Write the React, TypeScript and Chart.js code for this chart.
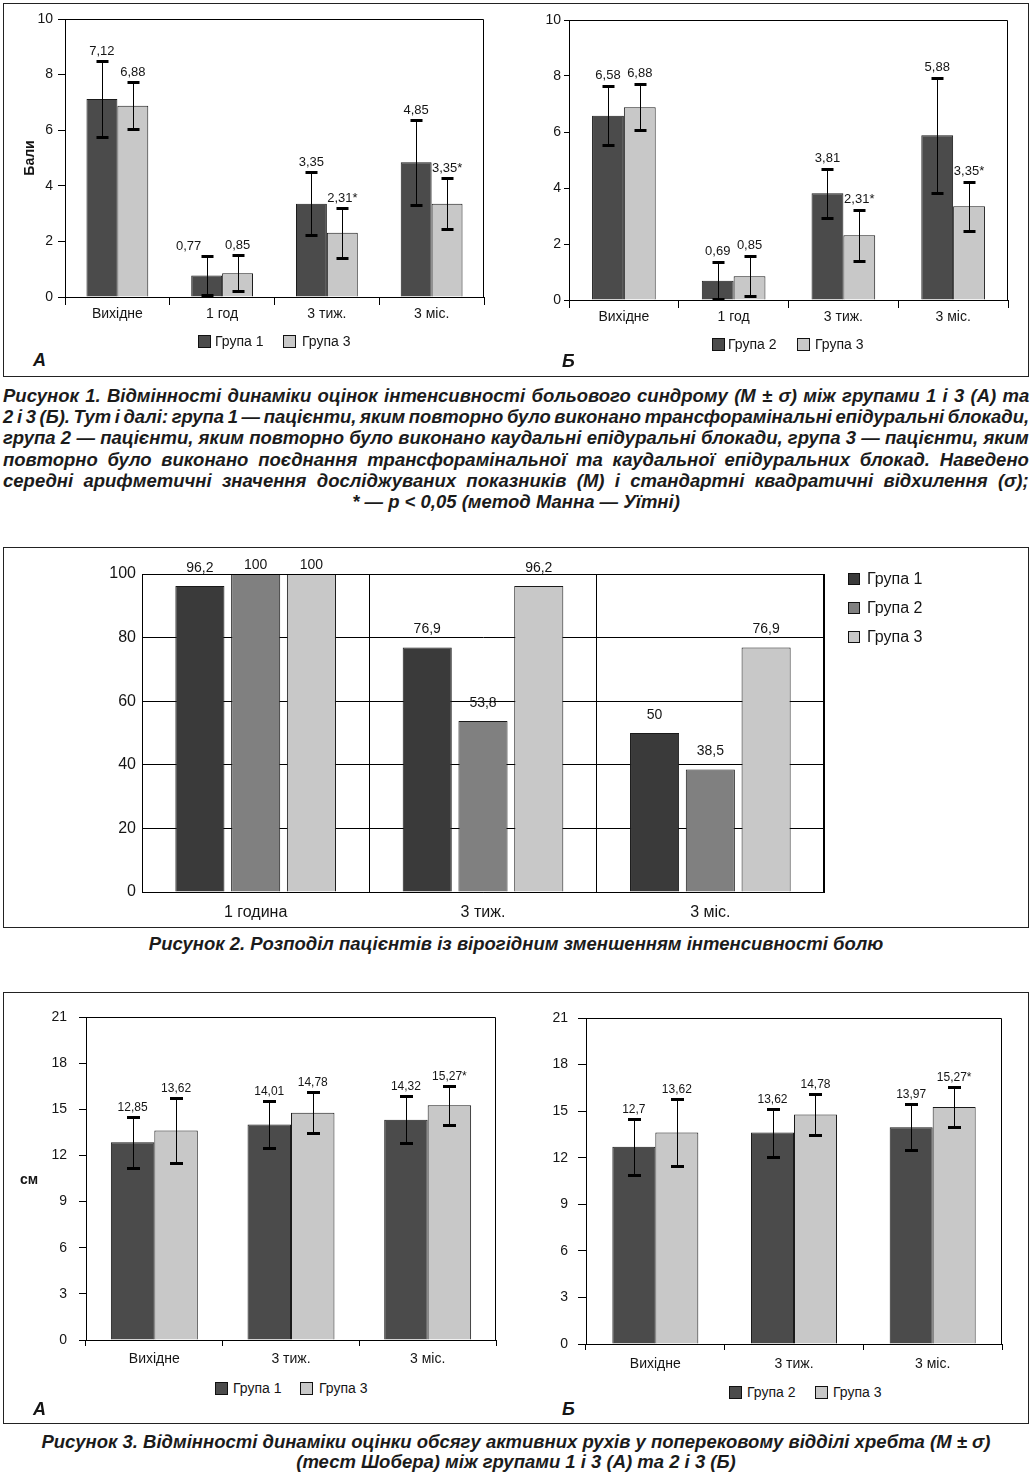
import React, { useEffect, useLayoutEffect, useRef, useState } from "react";
import { Chart, registerables } from "chart.js";

Chart.register(...registerables);

// ---------------- data ----------------
const seriesGroup1 = "Група 1";
const seriesGroup2 = "Група 2";
const seriesGroup3 = "Група 3";

// Figure 1 (pain intensity, points)
const fig1Categories = ["Вихідне", "1 год", "3 тиж.", "3 міс."];
const fig1YTicks = [0, 2, 4, 6, 8, 10];
const fig1YTitle = "Бали";
const fig1aGroup1 = [7.12, 0.77, 3.35, 4.85];
const fig1aGroup1Sd = [1.37, 0.7, 1.13, 1.53];
const fig1aGroup3 = [6.88, 0.85, 2.31, 3.35];
const fig1aGroup3Sd = [0.84, 0.65, 0.9, 0.92];
const fig1aGroup3Sig = [false, false, true, true];
const fig1bGroup2 = [6.58, 0.69, 3.81, 5.88];
const fig1bGroup2Sd = [1.05, 0.65, 0.87, 2.05];
const fig1bGroup3 = [6.88, 0.85, 2.31, 3.35];
const fig1bGroup3Sd = [0.82, 0.72, 0.91, 0.88];
const fig1bGroup3Sig = [false, false, true, true];

// Figure 2 (share of patients, %)
const fig2Categories = ["1 година", "3 тиж.", "3 міс."];
const fig2YTicks = [0, 20, 40, 60, 80, 100];
const fig2Group1 = [96.2, 76.9, 50];
const fig2Group2 = [100, 53.8, 38.5];
const fig2Group3 = [100, 96.2, 76.9];

// Figure 3 (Schober test, cm)
const fig3Categories = ["Вихідне", "3 тиж.", "3 міс."];
const fig3YTicks = [0, 3, 6, 9, 12, 15, 18, 21];
const fig3YTitle = "см";
const fig3aGroup1 = [12.85, 14.01, 14.32];
const fig3aGroup1Sd = [1.68, 1.5, 1.53];
const fig3aGroup3 = [13.62, 14.78, 15.27];
const fig3aGroup3Sd = [2.14, 1.33, 1.26];
const fig3aGroup3Sig = [false, false, true];
const fig3bGroup2 = [12.7, 13.62, 13.97];
const fig3bGroup2Sd = [1.8, 1.55, 1.48];
const fig3bGroup3 = [13.62, 14.78, 15.27];
const fig3bGroup3Sd = [2.18, 1.3, 1.27];
const fig3bGroup3Sig = [false, false, true];

// captions
const caption1Lines = [
  "Рисунок 1. Відмінності динаміки оцінок інтенсивності больового синдрому (M ± σ) між групами 1 і 3 (А) та",
  "2 і 3 (Б). Тут і далі: група 1 — пацієнти, яким повторно було виконано трансфорамінальні епідуральні блокади,",
  "група 2 — пацієнти, яким повторно було виконано каудальні епідуральні блокади, група 3 — пацієнти, яким",
  "повторно було виконано поєднання трансфорамінальної та каудальної епідуральних блокад. Наведено",
  "середні арифметичні значення досліджуваних показників (M) і стандартні квадратичні відхилення (σ);",
];
const caption1Last = "* — p < 0,05 (метод Манна — Уїтні)";
const caption2 = "Рисунок 2. Розподіл пацієнтів із вірогідним зменшенням інтенсивності болю";
const caption3Lines = [
  "Рисунок 3. Відмінності динаміки оцінки обсягу активних рухів у поперековому відділі хребта (M ± σ)",
  "(тест Шобера) між групами 1 і 3 (А) та 2 і 3 (Б)",
];

// ---------------- styles ----------------
const FONT = "'Liberation Sans', Arial, Helvetica, sans-serif";
const DARK = "#4b4b4b";
const LIGHT = "#c8c8c8";
const F2_DARK = "#3a3a3a";
const F2_MID = "#808080";
const F2_LIGHT = "#c8c8c8";
const INK = "#151515";

type DS = { label: string; data: number[]; sd?: number[]; sig?: boolean[]; color: string; shift?: number[] };
type Spec = {
  box: [number, number, number, number];
  plot: [number, number, number, number];
  categories: string[];
  yTicks: number[];
  datasets: DS[];
  catPct: number;
  barPct: number;
  grid: boolean;
  tickFont: number;
  valueFont: number;
  labelGap: number;
  xTick: [number, number];
  yTick: [number, number];
  yTitle?: [string, number];
  cap: number;
};

function BarChart({ spec }: { spec: Spec }) {
  const ref = useRef<HTMLCanvasElement>(null);
  const [L, T, W, H] = spec.box;
  useEffect(() => {
    const [pl, pt, pr, pb] = spec.plot;
    const font = { family: FONT, size: spec.tickFont };
    const overlay = {
      id: "overlay",
      afterDatasetsDraw(c: any) {
        const ctx = c.ctx;
        const ys = c.scales.y;
        const area = c.chartArea;
        ctx.save();
        ctx.strokeStyle = "#000";
        ctx.lineWidth = 1;
        const t = Math.round(area.top) + 0.5;
        const r = Math.round(area.right) - 0.5;
        ctx.beginPath();
        ctx.moveTo(area.left, t);
        ctx.lineTo(r, t);
        ctx.lineTo(r, area.bottom);
        ctx.stroke();
        c.data.datasets.forEach((ds: any, i: number) => {
          const meta = c.getDatasetMeta(i);
          meta.data.forEach((bar: any, j: number) => {
            const v = ds.data[j];
            const x = Math.round(bar.x) + 0.5;
            let ly: number;
            if (ds.errors) {
              const sd = ds.errors[j];
              const yt = Math.round(ys.getPixelForValue(v + sd)) + 0.5;
              const yb = Math.round(ys.getPixelForValue(Math.max(0, v - sd))) + 0.5;
              ctx.strokeStyle = "#000";
              ctx.lineWidth = 1;
              ctx.beginPath();
              ctx.moveTo(x, yt);
              ctx.lineTo(x, yb);
              ctx.stroke();
              ctx.lineWidth = 3;
              ctx.beginPath();
              ctx.moveTo(x - spec.cap / 2, yt);
              ctx.lineTo(x + spec.cap / 2, yt);
              ctx.moveTo(x - spec.cap / 2, yb);
              ctx.lineTo(x + spec.cap / 2, yb);
              ctx.stroke();
              ly = yt - spec.labelGap;
            } else {
              ly = Math.max(bar.y - spec.labelGap, area.top - 9);
            }
            const txt = String(v).replace(".", ",") + (ds.sig && ds.sig[j] ? "*" : "");
            ctx.fillStyle = INK;
            ctx.font = `${spec.valueFont}px ${FONT}`;
            ctx.textAlign = "center";
            ctx.textBaseline = "middle";
            ctx.fillText(txt, bar.x + (ds.shift ? ds.shift[j] : 0), ly);
          });
        });
        ctx.restore();
      },
    };
    const chart = new Chart(ref.current as HTMLCanvasElement, {
      type: "bar",
      data: {
        labels: spec.categories,
        datasets: spec.datasets.map((d) => ({
          label: d.label,
          data: d.data,
          backgroundColor: d.color,
          borderColor: "#1a1a1a",
          borderWidth: 1,
          categoryPercentage: spec.catPct,
          barPercentage: spec.barPct,
          errors: d.sd,
          sig: d.sig,
          shift: d.shift,
        })) as any,
      },
      options: {
        animation: false,
        responsive: false,
        devicePixelRatio: 1,
        layout: { padding: { left: 0, top: pt - T, right: L + W - pr, bottom: 0 } },
        plugins: { legend: { display: false }, tooltip: { enabled: false }, title: { display: false } },
        scales: {
          x: {
            offset: true,
            grid: {
              display: true,
              offset: true,
              drawOnChartArea: spec.grid,
              drawTicks: !spec.grid,
              tickLength: spec.xTick[0],
              color: "#000",
              lineWidth: 1,
            },
            border: { display: true, color: "#000", width: 1 },
            ticks: { color: INK, font, padding: spec.xTick[1], maxRotation: 0, autoSkip: false },
            afterFit: (s: any) => {
              s.height = T + H - pb;
            },
          },
          y: {
            min: 0,
            max: spec.yTicks[spec.yTicks.length - 1],
            afterBuildTicks: (s: any) => {
              s.ticks = spec.yTicks.map((v) => ({ value: v }));
            },
            grid: {
              display: true,
              drawOnChartArea: spec.grid,
              drawTicks: !spec.grid,
              tickLength: spec.yTick[0],
              color: "#000",
              lineWidth: 1,
            },
            border: { display: true, color: "#000", width: 1 },
            ticks: { color: INK, font, padding: spec.yTick[1], callback: (v: any) => String(v) },
            title: spec.yTitle
              ? {
                  display: true,
                  text: spec.yTitle[0],
                  color: INK,
                  font: { family: FONT, size: 14, weight: "bold" },
                  padding: { top: spec.yTitle[1], bottom: 0 },
                }
              : { display: false },
            afterFit: (s: any) => {
              s.width = pl - L;
            },
          },
        },
      } as any,
      plugins: [overlay],
    });
    return () => chart.destroy();
  }, [spec]);
  return (
    <canvas
      ref={ref}
      width={W}
      height={H}
      style={{ position: "absolute", left: L, top: T, width: W, height: H }}
    />
  );
}

function Txt({ x, cy, size, bold, italic, children, w, align }: any) {
  return (
    <div
      style={{
        position: "absolute",
        left: x,
        top: cy - size * 0.6,
        width: w,
        textAlign: align || "left",
        fontFamily: FONT,
        fontSize: size,
        lineHeight: `${size * 1.2}px`,
        fontWeight: bold ? "bold" : "normal",
        fontStyle: italic ? "italic" : "normal",
        color: INK,
        whiteSpace: "nowrap",
      }}
    >
      {children}
    </div>
  );
}

function Legend({ items, size, font }: { items: { label: string; color: string; sx: number; tx: number; cy: number }[]; size: number; font: number }) {
  return (
    <>
      {items.map((it, i) => (
        <React.Fragment key={i}>
          <div
            style={{
              position: "absolute",
              left: it.sx,
              top: it.cy - size / 2,
              width: size,
              height: size,
              background: it.color,
              border: "1px solid #111",
              boxSizing: "border-box",
            }}
          />
          <Txt x={it.tx} cy={it.cy} size={font}>
            {it.label}
          </Txt>
        </React.Fragment>
      ))}
    </>
  );
}

const CAP_SIZE = 18.5;

function CapLine({ text, left, width, cy, justify }: any) {
  const ref = useRef<HTMLSpanElement>(null);
  const [st, setSt] = useState({ ws: 0, sc: 1 });
  useLayoutEffect(() => {
    if (!justify || !ref.current) return;
    const w = ref.current.offsetWidth;
    const spaces = (text.match(/ /g) || []).length;
    if (!spaces) return;
    let ws = (width - w) / spaces;
    let sc = 1;
    if (ws < -1.5) {
      ws = -1.5;
      sc = width / (w + ws * spaces);
    }
    setSt({ ws, sc });
  }, [text, width, justify]);
  return (
    <div
      style={{
        position: "absolute",
        left,
        top: cy - CAP_SIZE * 0.6,
        width,
        textAlign: justify ? "left" : "center",
        whiteSpace: "nowrap",
        fontFamily: FONT,
        fontSize: CAP_SIZE,
        lineHeight: `${CAP_SIZE * 1.2}px`,
        fontWeight: "bold",
        fontStyle: "italic",
        color: "#1b1b1b",
      }}
    >
      <span
        ref={ref}
        style={{
          display: "inline-block",
          wordSpacing: st.ws,
          transform: `scaleX(${st.sc})`,
          transformOrigin: "left center",
        }}
      >
        {text}
      </span>
    </div>
  );
}

function Frame({ l, t, w, h }: any) {
  return (
    <div
      style={{
        position: "absolute",
        left: l,
        top: t,
        width: w,
        height: h,
        border: "1px solid #222",
        boxSizing: "border-box",
      }}
    />
  );
}

// ---------------- chart specs ----------------
const spec1A: Spec = {
  box: [4, 4, 505, 332],
  plot: [65, 19, 484, 297],
  categories: fig1Categories,
  yTicks: fig1YTicks,
  datasets: [
    { label: seriesGroup1, data: fig1aGroup1, sd: fig1aGroup1Sd, color: DARK, shift: [0, -18, 0, 0] },
    { label: seriesGroup3, data: fig1aGroup3, sd: fig1aGroup3Sd, sig: fig1aGroup3Sig, color: LIGHT },
  ],
  catPct: 0.59,
  barPct: 1,
  grid: false,
  tickFont: 14,
  valueFont: 13,
  labelGap: 10,
  xTick: [8, 1],
  yTick: [7, 5],
  yTitle: [fig1YTitle, 18],
  cap: 12,
};

const spec1B: Spec = {
  box: [515, 4, 510, 332],
  plot: [569, 20, 1008, 300],
  categories: fig1Categories,
  yTicks: fig1YTicks,
  datasets: [
    { label: seriesGroup2, data: fig1bGroup2, sd: fig1bGroup2Sd, color: DARK },
    { label: seriesGroup3, data: fig1bGroup3, sd: fig1bGroup3Sd, sig: fig1bGroup3Sig, color: LIGHT },
  ],
  catPct: 0.58,
  barPct: 1,
  grid: false,
  tickFont: 14,
  valueFont: 13,
  labelGap: 11,
  xTick: [8, 1],
  yTick: [5, 3],
  cap: 12,
};

const spec2: Spec = {
  box: [4, 548, 1024, 375],
  plot: [142, 574, 824, 892],
  categories: fig2Categories,
  yTicks: fig2YTicks,
  datasets: [
    { label: seriesGroup1, data: fig2Group1, color: F2_DARK },
    { label: seriesGroup2, data: fig2Group2, color: F2_MID },
    { label: seriesGroup3, data: fig2Group3, color: F2_LIGHT },
  ],
  catPct: 0.736,
  barPct: 0.88,
  grid: true,
  tickFont: 16,
  valueFont: 14,
  labelGap: 18,
  xTick: [0, 11],
  yTick: [0, 6],
  cap: 0,
};

const spec3A: Spec = {
  box: [4, 993, 505, 380],
  plot: [86, 1017, 496, 1340],
  categories: fig3Categories,
  yTicks: fig3YTicks,
  datasets: [
    { label: seriesGroup1, data: fig3aGroup1, sd: fig3aGroup1Sd, color: DARK },
    { label: seriesGroup3, data: fig3aGroup3, sd: fig3aGroup3Sd, sig: fig3aGroup3Sig, color: LIGHT },
  ],
  catPct: 0.636,
  barPct: 1,
  grid: false,
  tickFont: 14,
  valueFont: 12,
  labelGap: 10,
  xTick: [6, 5],
  yTick: [7, 12],
  cap: 13,
};

const spec3B: Spec = {
  box: [515, 993, 505, 380],
  plot: [586, 1018, 1002, 1344],
  categories: fig3Categories,
  yTicks: fig3YTicks,
  datasets: [
    { label: seriesGroup2, data: fig3bGroup2, sd: fig3bGroup2Sd, color: DARK },
    { label: seriesGroup3, data: fig3bGroup3, sd: fig3bGroup3Sd, sig: fig3bGroup3Sig, color: LIGHT },
  ],
  catPct: 0.62,
  barPct: 1,
  grid: false,
  tickFont: 14,
  valueFont: 12,
  labelGap: 10,
  xTick: [6, 6],
  yTick: [8, 10],
  cap: 13,
};

export default function App() {
  return (
    <div
      style={{
        position: "absolute",
        left: 0,
        top: 0,
        width: 1033,
        height: 1475,
        background: "#fff",
        overflow: "hidden",
      }}
    >
      {/* Figure 1 */}
      <Frame l={3} t={3} w={1026} h={374} />
      <BarChart spec={spec1A} />
      <BarChart spec={spec1B} />
      <Legend
        size={13}
        font={14}
        items={[
          { label: seriesGroup1, color: DARK, sx: 198, tx: 215, cy: 341 },
          { label: seriesGroup3, color: LIGHT, sx: 283, tx: 302, cy: 341 },
        ]}
      />
      <Legend
        size={13}
        font={14}
        items={[
          { label: seriesGroup2, color: DARK, sx: 712, tx: 728, cy: 344 },
          { label: seriesGroup3, color: LIGHT, sx: 797, tx: 815, cy: 344 },
        ]}
      />
      <Txt x={33} cy={361} size={18} bold italic>
        А
      </Txt>
      <Txt x={562} cy={362} size={18} bold italic>
        Б
      </Txt>
      {caption1Lines.map((line, i) => (
        <CapLine key={i} text={line} left={3} width={1026} cy={396 + i * 21.2} justify />
      ))}
      <CapLine text={caption1Last} left={3} width={1026} cy={502} />

      {/* Figure 2 */}
      <Frame l={3} t={547} w={1026} h={381} />
      <BarChart spec={spec2} />
      <Legend
        size={12}
        font={16}
        items={[
          { label: seriesGroup1, color: F2_DARK, sx: 848, tx: 867, cy: 579 },
          { label: seriesGroup2, color: F2_MID, sx: 848, tx: 867, cy: 608 },
          { label: seriesGroup3, color: F2_LIGHT, sx: 848, tx: 867, cy: 637 },
        ]}
      />
      <CapLine text={caption2} left={3} width={1026} cy={944} />

      {/* Figure 3 */}
      <Frame l={3} t={992} w={1026} h={432} />
      <BarChart spec={spec3A} />
      <BarChart spec={spec3B} />
      <Txt x={20} cy={1179} size={14} bold>
        {fig3YTitle}
      </Txt>
      <Legend
        size={13}
        font={14}
        items={[
          { label: seriesGroup1, color: DARK, sx: 215, tx: 233, cy: 1388 },
          { label: seriesGroup3, color: LIGHT, sx: 300, tx: 319, cy: 1388 },
        ]}
      />
      <Legend
        size={13}
        font={14}
        items={[
          { label: seriesGroup2, color: DARK, sx: 729, tx: 747, cy: 1392 },
          { label: seriesGroup3, color: LIGHT, sx: 815, tx: 833, cy: 1392 },
        ]}
      />
      <Txt x={33} cy={1410} size={18} bold italic>
        А
      </Txt>
      <Txt x={562} cy={1410} size={18} bold italic>
        Б
      </Txt>
      {caption3Lines.map((line, i) => (
        <CapLine key={i} text={line} left={3} width={1026} cy={1442 + i * 20.5} />
      ))}
    </div>
  );
}
